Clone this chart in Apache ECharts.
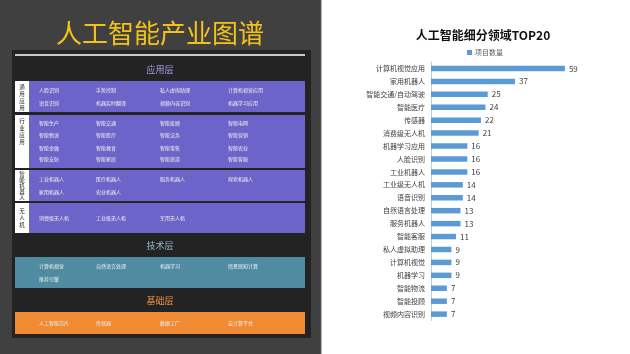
<!DOCTYPE html>
<html><head><meta charset="utf-8">
<script src="https://cdn.jsdelivr.net/npm/echarts@6/dist/echarts.min.js"></script>
<style>html,body{margin:0;padding:0;background:#fff}#c{width:630px;height:354px}</style>
</head><body><div id="c"></div>
<script>
// ---- data ----
const leftTitle = '人工智能产业图谱';
const layerNames = ['应用层', '技术层', '基础层'];
const appGroupLabels = ['通用应用', '行业应用', '智能机器人', '无人机'];
const appGeneral = ['人脸识别','手势控制','私人虚拟助理','计算机视觉应用','语音识别','机器实时翻译','视频内容识别','机器学习应用'];
const appIndustry = ['智能生产','智能交通','智能投顾','智能电网','智能物流','智能医疗','智能法务','智能营销','智能金融','智能教育','智能零售','智能农业','智能安防','智能家居','智能旅游','智能客服'];
const appRobot = ['工业机器人','医疗机器人','服务机器人','探索机器人','家用机器人','农业机器人'];
const appDrone = ['消费级无人机','工业级无人机','军用无人机'];
const techItems = ['计算机视觉','自然语言处理','机器学习','情景感知计算','推荐引擎'];
const baseItems = ['人工智能芯片','传感器','数据工厂','云计算平台'];

const chartTitle = '人工智能细分领域TOP20';
const seriesName = '项目数量';
const categories = ['计算机视觉应用','家用机器人','智能交通/自动驾驶','智能医疗','传感器','消费级无人机','机器学习应用','人脸识别','工业机器人','工业级无人机','语音识别','自然语言处理','服务机器人','智能客服','私人虚拟助理','计算机视觉','机器学习','智能物流','智能投顾','视频内容识别'];
const values = [59,37,25,24,22,21,16,16,16,14,14,13,13,11,9,9,9,7,7,7];

// ---- layout ----
const FONT = '"Noto Sans CJK SC","Noto Sans",sans-serif';
const colX = [39, 96, 160, 228];
const g = [];
g.push({type:'rect', shape:{x:0,y:0,width:321,height:354}, style:{fill:'#404040'}});
g.push({type:'rect', shape:{x:320.5,y:0,width:1,height:354}, style:{fill:'#5a6470'}});
g.push({type:'text', style:{text:leftTitle, x:160, y:33, fill:'#f2c21b', font:'26px '+FONT, textAlign:'center', textVerticalAlign:'middle'}});
g.push({type:'rect', shape:{x:12,y:50,width:299,height:288}, style:{fill:'#232323'}});
g.push({type:'rect', shape:{x:15,y:54,width:290,height:2}, style:{fill:'#c9c9c9'}});
const headerY = [70, 246, 301];
const headerColors = ['#a79de6', '#8db6c6', '#f2964a'];
layerNames.forEach((t,i)=>g.push({type:'text', style:{text:t, x:160, y:headerY[i], fill:headerColors[i], font:'9px '+FONT, textAlign:'center', textVerticalAlign:'middle'}}));

function block(top, bottom, fill, items, rowYs, label){
  const x0 = label ? 29 : 15;
  if (label){
    g.push({type:'rect', shape:{x:15,y:top,width:14,height:bottom-top}, style:{fill:'#ffffff'}});
    const chars = label.split('');
    let step, y0;
    if (chars.length === 4) { step = 7.2; y0 = top + 5.5; }
    else if (chars.length === 5) { step = 6; y0 = top + 4; }
    else { step = 7; y0 = (top + bottom)/2 - (chars.length-1)*step/2; }
    chars.forEach((ch,k)=>g.push({type:'text', style:{text:ch, x:22, y:y0 + k*step, fill:'#222', font:'5.5px '+FONT, textAlign:'center', textVerticalAlign:'middle'}}));
  }
  g.push({type:'rect', shape:{x:x0,y:top,width:305-x0,height:bottom-top}, style:{fill:fill}});
  items.forEach((t,k)=>{
    const r = Math.floor(k/4), c = k%4;
    g.push({type:'text', style:{text:t, x:colX[c], y:rowYs[r], fill:'#eeeeee', font:'5px '+FONT, textAlign:'left', textVerticalAlign:'middle'}});
  });
}
const purple = '#6d64c9';
block(81, 112, purple, appGeneral, [90, 103], appGroupLabels[0]);
block(115, 168, purple, appIndustry, [123, 135.5, 148, 159.5], appGroupLabels[1]);
block(170, 201, purple, appRobot, [179, 192], appGroupLabels[2]);
block(203, 233, purple, appDrone, [218], appGroupLabels[3]);
block(257, 288, '#4f8ba1', techItems, [266, 279], null);
block(312, 334, '#f08b34', baseItems, [323], null);

const chart = echarts.init(document.getElementById('c'), null, {renderer:'canvas'});
chart.setOption({
  animation:false,
  backgroundColor:'#ffffff',
  graphic: g,
  title:{text:chartTitle, left:478, top:30, textAlign:'center', textVerticalAlign:'middle',
    textStyle:{fontFamily:FONT, fontSize:12, fontWeight:'bold', color:'#111'}},
  legend:{data:[seriesName], left:462, top:44, icon:'rect', itemWidth:5, itemHeight:5, itemGap:4,
    textStyle:{fontFamily:FONT, fontSize:7, color:'#595959', padding:[0,0,0,-2]}},
  grid:{left:431, top:62, width:136.2, height:258.6, containLabel:false},
  xAxis:{type:'value', min:0, max:60, show:false},
  yAxis:{type:'category', data:categories, inverse:true,
    axisLine:{show:true, lineStyle:{color:'#c3ccd6', width:1}},
    axisTick:{show:false}, splitLine:{show:false},
    axisLabel:{fontFamily:FONT, fontSize:7, color:'#404040', margin:6}},
  series:[{name:seriesName, type:'bar', data:values, barWidth:5.5,
    itemStyle:{color:'#5b9bd5'},
    label:{show:true, position:'right', distance:4, fontFamily:FONT, fontSize:8, color:'#404040'}}]
});
</script></body></html>
